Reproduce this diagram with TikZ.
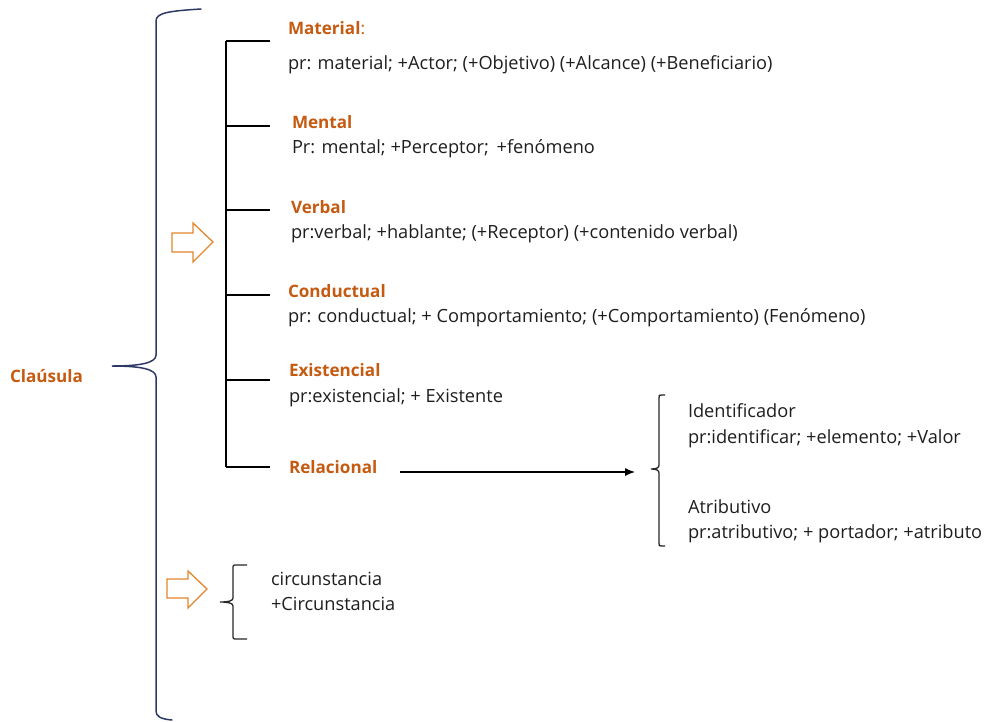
\documentclass[tikz,border=0pt]{standalone}
\usepackage{fontspec}
\setmainfont{Open Sans}[Ligatures=NoCommon]
\usetikzlibrary{arrows.meta}
\definecolor{headorange}{HTML}{C55A11}
\definecolor{arroworange}{HTML}{E3862E}
\definecolor{bracenavy}{HTML}{2E3A66}
\definecolor{bodytext}{HTML}{1E1E1E}
\begin{document}
\begin{tikzpicture}[x=1pt,y=-1pt,
  every node/.style={inner sep=0pt,outer sep=0pt,anchor=base west,font=\fontsize{18.2}{21}\selectfont,text=bodytext},
  heading/.style={font=\fontsize{17.1}{20}\selectfont\bfseries,text=headorange},
  bigbrace/.style={draw=bracenavy,line width=1.5pt,line cap=round},
  smallbrace/.style={draw=black!85,line width=1.3pt},
  comb/.style={draw=black,line width=1.2pt},
  blockarrow/.style={draw=arroworange,line width=1.3pt,fill=white,line join=miter},
  link/.style={draw=black,line width=1.1pt,-{Latex[length=10pt,width=8pt]}}]
\useasboundingbox (0,0) rectangle (984,721);

% main brace
\path[bigbrace] (201,9) .. controls (168,11) and (156,13) .. (156,21)
  -- (156,355) .. controls (156,363) and (140,366) .. (112,366)
  .. controls (140,366) and (156,369) .. (156,377)
  -- (156,711) .. controls (156,716) and (160,719) .. (172,720);
\node[heading] (clausula) at (10,382) {Claúsula};

% block arrows
\path[blockarrow] (172,233) -- (193,233) -- (193,223) -- (213,242) -- (193,262) -- (193,252) -- (172,252) -- cycle;
\path[blockarrow] (167,579) -- (188,579) -- (188,571) -- (207,589) -- (188,608) -- (188,598) -- (167,598) -- cycle;

% comb of process types
\coordinate (c0) at (226,41);
\coordinate (c5) at (226,467);
\path[comb] (c0) -- (c5);
\foreach \yy in {41,126,210,295,380,467} {
  \path[comb] (226,\yy) -- (270,\yy);
}

\node[heading] (material) at (288,34) {Material\mdseries:};
\node (materialtx) at (288,69) {pr: material; +Actor; (+Objetivo) (+Alcance) (+Beneficiario)};
\node[heading] (mental) at (292,128) {Mental};
\node (mentaltx) at (292,153) {Pr: mental; +Perceptor;\, +fenómeno};
\node[heading] (verbal) at (291,213) {Verbal};
\node (verbaltx) at (291,238) {pr:verbal; +hablante; (+Receptor) (+contenido verbal)};
\node[heading] (conductual) at (288,297) {Conductual};
\node (conductualtx) at (288,322) {pr: conductual; + Comportamiento; (+Comportamiento) (Fenómeno)};
\node[heading] (existencial) at (289,376) {Existencial};
\node (existencialtx) at (289,402) {pr:existencial; + Existente};
\node[heading] (relacional) at (289,473) {Relacional};

% relational branch
\coordinate (linkstart) at (400,472);
\coordinate (linkend) at (635,472);
\path[link] (linkstart) -- (linkend);
\path[smallbrace] (665,395) -- (662,395) .. controls (659,395) .. (659,398)
  -- (659,465) .. controls (659,468) and (656,469) .. (651,469)
  .. controls (656,469) and (659,470) .. (659,473)
  -- (659,543) .. controls (659,546) .. (662,546) -- (665,546);
\node (ident) at (688,417) {Identificador};
\node (identtx) at (688,443) {pr:identificar; +elemento; +Valor};
\node (atrib) at (688,513) {Atributivo};
\node (atribtx) at (688,538) {pr:atributivo; + portador; +atributo};

% circumstance branch
\path[smallbrace] (247,565) -- (237,565) .. controls (233,565) .. (233,569)
  -- (233,598) .. controls (233,601) and (228,602) .. (220,602)
  .. controls (228,602) and (233,603) .. (233,606)
  -- (233,635) .. controls (233,639) .. (237,639) -- (247,639);
\node (circ) at (271,585) {circunstancia};
\node (circtx) at (271,610) {+Circunstancia};
\end{tikzpicture}
\end{document}
